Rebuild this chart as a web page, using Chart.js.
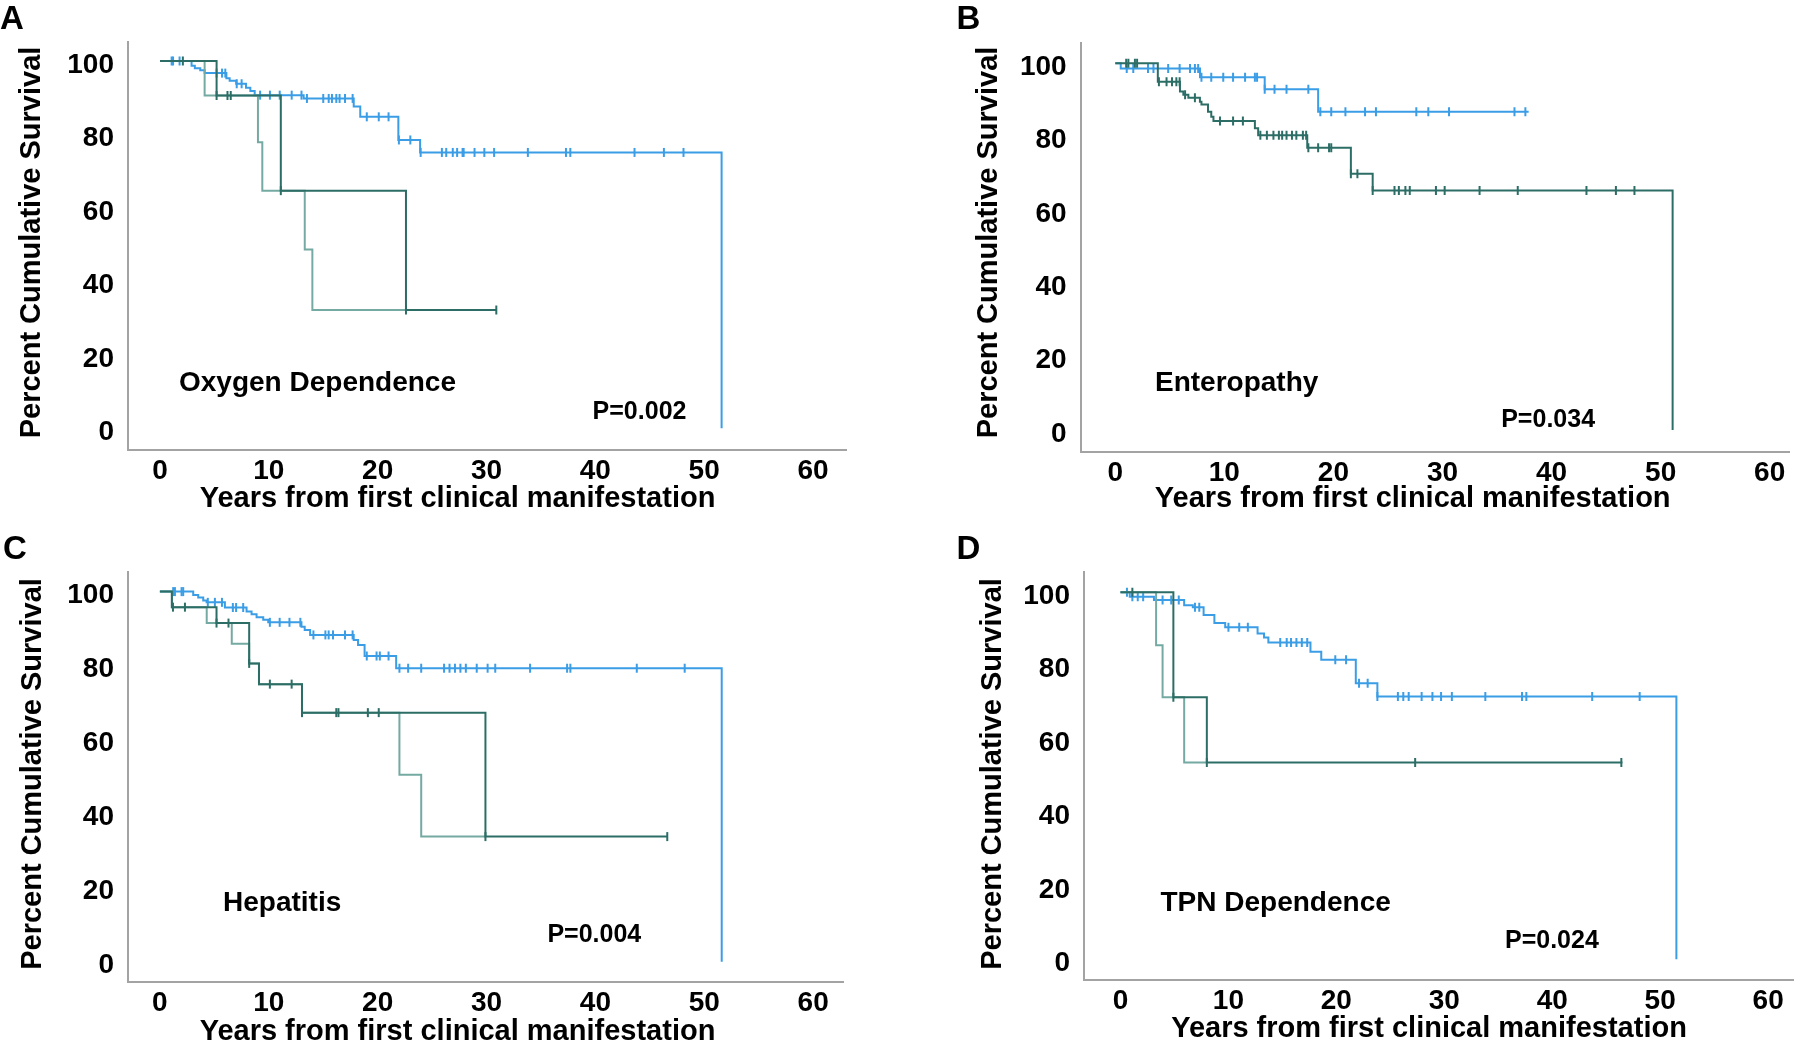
<!DOCTYPE html>
<html><head><meta charset="utf-8">
<script src="https://cdn.jsdelivr.net/npm/chart.js@4.4.1/dist/chart.umd.min.js"></script>
<style>
html,body{margin:0;padding:0;background:#fff;}
body{width:1800px;height:1041px;position:relative;overflow:hidden;}
canvas{position:absolute;display:block;}
</style></head><body>
<canvas id="cA" width="900" height="520" style="left:0;top:0;width:900px;height:520px"></canvas>
<canvas id="cB" width="900" height="520" style="left:900px;top:0;width:900px;height:520px"></canvas>
<canvas id="cC" width="900" height="521" style="left:0;top:520px;width:900px;height:521px"></canvas>
<canvas id="cD" width="900" height="521" style="left:900px;top:520px;width:900px;height:521px"></canvas>
<script>
// ---------- tick labels & texts ----------
const xTicks = [0, 10, 20, 30, 40, 50, 60];
const yTicks = [0, 20, 40, 60, 80, 100];
const xTickLabels = ['0', '10', '20', '30', '40', '50', '60'];
const yTickLabels = ['0', '20', '40', '60', '80', '100'];
const panelLetters = ['A', 'B', 'C', 'D'];
const panelNames = ['Oxygen Dependence', 'Enteropathy', 'Hepatitis', 'TPN Dependence'];
const pValues = ['P=0.002', 'P=0.034', 'P=0.004', 'P=0.024'];
const xTitle = 'Years from first clinical manifestation';
const yTitle = 'Percent Cumulative Survival';

// ---------- Panel A : Oxygen Dependence ----------
const A_blueTime = [0, 2.9, 3.2, 3.7, 4.1, 6.1, 6.4, 7.0, 7.9, 8.3, 8.7, 13.2, 17.8, 18.4, 21.9, 23.9, 51.6];
const A_blueSurv = [100, 98.7, 98.0, 97.5, 96.7, 95.3, 94.6, 93.8, 92.7, 91.8, 90.7, 89.8, 87.6, 84.8, 78.5, 75.1, 0];
const A_blueCens = [1.07, 1.2, 1.8, 5.2, 5.7, 6.0, 7.05, 7.5, 9.2, 10.1, 11.0, 12.1, 13.0, 13.5, 15.0, 15.5, 15.8, 16.2, 16.5, 17.0, 17.7,
  19.0, 20.1, 21.0, 21.95, 23.0, 23.95, 25.9, 26.3, 26.9, 27.3, 27.8, 27.9, 28.9, 29.8, 30.7, 33.8, 37.3, 37.7, 43.6, 46.3, 48.1];
const A_tealTime = [0, 5.2, 11.1, 22.6, 30.9];
const A_tealSurv = [100, 90.6, 64.7, 32.2, 32.2];
const A_tealCens = [2.1, 5.2, 6.2, 6.5, 11.1, 22.6, 30.9];
const A_teal2Time = [0, 4.1, 9.0, 9.4, 13.3, 14.0, 22.6];
const A_teal2Surv = [100, 90.6, 77.9, 64.7, 48.7, 32.2, 32.2];

// ---------- Panel B : Enteropathy ----------
const B_blueTime = [0, 0.5, 7.77, 13.7, 18.6, 37.9];
const B_blueSurv = [100, 98.6, 96.2, 92.9, 86.8, 86.8];
const B_blueCens = [1.05, 1.65, 3.0, 3.5, 4.85, 5.9, 6.85, 7.3, 7.6, 7.9, 8.8, 9.9, 10.8, 11.9, 12.8, 13.0, 13.7, 14.6, 15.7, 17.7,
  18.8, 19.8, 21.1, 22.9, 23.9, 27.6, 28.7, 30.6, 36.6, 37.6];
const B_tealTime = [0, 3.9, 5.93, 6.24, 6.7, 7.76, 7.9, 8.5, 8.8, 9.0, 12.8, 13.1, 17.6, 21.6, 23.6, 51.1];
const B_tealSurv = [100, 95.0, 92.3, 91.4, 90.6, 89.5, 88.8, 86.8, 85.4, 84.3, 82.3, 80.4, 77.0, 69.9, 65.3, 0];
const B_tealCens = [1.0, 1.2, 1.8, 2.0, 4.0, 4.7, 5.2, 5.6, 5.9, 6.4, 7.3, 9.6, 10.8, 11.7, 13.3, 13.9, 14.5, 15.0, 15.3, 15.7, 16.2,
  16.6, 17.2, 17.5, 17.7, 18.6, 19.6, 19.8, 21.6, 22.2, 23.6, 25.6, 26.0, 26.6, 27.0, 29.4, 30.2, 33.4, 36.9, 43.2, 45.9, 47.6];
const B_teal2Time = [];
const B_teal2Surv = [];

// ---------- Panel C : Hepatitis ----------
const C_blueTime = [0, 3.06, 3.52, 3.98, 4.29, 5.97, 7.96, 8.42, 8.88, 9.49, 9.95, 13.0, 13.3, 13.8, 17.8, 18.2, 18.8, 21.7, 51.6];
const C_blueSurv = [100, 99.1, 98.4, 97.6, 97.1, 95.7, 94.6, 93.9, 93.1, 92.4, 91.7, 90.5, 89.6, 88.3, 86.9, 85.6, 82.6, 79.3, 0];
const C_blueCens = [1.22, 1.38, 1.99, 2.14, 4.4, 5.05, 5.7, 6.7, 7.0, 7.65, 10.1, 11.0, 11.9, 12.9, 14.1, 15.2, 15.5, 15.9, 17.0, 17.7,
  19.0, 19.9, 20.2, 21.0, 22.0, 22.8, 24.0, 26.1, 26.6, 27.1, 27.6, 28.1, 29.1, 30.1, 30.8, 34.0, 37.4, 37.7, 43.8, 48.2];
const C_tealTime = [0, 1.1, 5.2, 8.2, 9.1, 13.05, 29.9, 46.6];
const C_tealSurv = [100, 95.8, 91.5, 80.6, 75.0, 67.3, 33.8, 33.8];
const C_tealCens = [1.2, 2.3, 5.2, 6.3, 8.2, 10.1, 12.1, 13.05, 16.2, 16.4, 19.1, 20.1, 29.9, 46.6];
const C_teal2Time = [0, 1.1, 4.3, 6.6, 8.2, 9.1, 13.05, 22.0, 24.0, 29.9];
const C_teal2Surv = [100, 95.8, 91.5, 85.9, 80.6, 75.0, 67.3, 50.5, 33.8, 33.8];

// ---------- Panel D : TPN Dependence ----------
const D_blueTime = [0, 0.86, 3.1, 5.9, 6.7, 7.7, 8.7, 9.7, 12.7, 13.3, 13.7, 17.6, 18.6, 21.8, 23.8, 51.5];
const D_blueSurv = [100, 98.8, 97.9, 96.5, 95.9, 93.8, 91.6, 90.5, 88.8, 87.7, 86.3, 83.8, 81.6, 75.2, 71.6, 0];
const D_blueCens = [0.6, 1.1, 1.6, 2.1, 3.9, 4.7, 5.4, 6.9, 7.3, 10.0, 11.0, 11.8, 14.8, 15.4, 15.8, 16.3, 16.8, 17.3, 19.9, 20.9,
  22.1, 22.9, 23.8, 25.7, 26.2, 26.7, 27.9, 28.9, 29.7, 30.7, 33.8, 37.2, 37.6, 43.7, 48.1];
const D_tealTime = [0, 4.9, 8.0, 46.5];
const D_tealSurv = [100, 71.4, 53.6, 53.6];
const D_tealCens = [1.1, 4.9, 8.0, 27.3, 46.4];
const D_teal2Time = [0, 3.3, 3.9, 5.9, 8.0];
const D_teal2Surv = [100, 85.6, 71.4, 53.6, 53.6];

// ---------- styles ----------
const BLUE = '#3a9de6';
const TEAL = '#2c6e66';
const TEAL_LIGHT = '#74aaa2';
const AXIS = '#a3a3a3';
const FONT = '"Liberation Sans", Arial, sans-serif';

// ---------- layout (pixel placement of each panel) ----------
const layouts = [
  { id: 'cA', area: { l: 128, t: 42, r: 846, b: 450 }, x: [-2.94, 63.03], y: [-5.91, 105.17],
    letter: [0, 17], yT: [30, 242.5], xT: [457.5, 497], name: [179, 381], p: [592.6, 410] },
  { id: 'cB', area: { l: 180.6, t: 43, r: 889, b: 452 }, x: [-3.18, 61.77], y: [-6.0, 105.54],
    letter: [56.5, 17], yT: [87, 242.5], xT: [512.7, 497], name: [255, 381], p: [601.2, 418] },
  { id: 'cC', area: { l: 128, t: 52, r: 843, b: 462 }, x: [-2.93, 62.74], y: [-5.49, 105.3],
    letter: [3, 27], yT: [30.3, 254], xT: [457.5, 510], name: [223, 381], p: [547.4, 413] },
  { id: 'cD', area: { l: 184, t: 52, r: 899, b: 460 }, x: [-3.38, 62.35], y: [-5.64, 105.53],
    letter: [56.5, 27], yT: [90.7, 254], xT: [529, 506.7], name: [260.5, 381], p: [605, 419] }
];

const seriesSets = [
  [A_blueTime, A_blueSurv, A_blueCens, A_tealTime, A_tealSurv, A_tealCens, A_teal2Time, A_teal2Surv],
  [B_blueTime, B_blueSurv, B_blueCens, B_tealTime, B_tealSurv, B_tealCens, B_teal2Time, B_teal2Surv],
  [C_blueTime, C_blueSurv, C_blueCens, C_tealTime, C_tealSurv, C_tealCens, C_teal2Time, C_teal2Surv],
  [D_blueTime, D_blueSurv, D_blueCens, D_tealTime, D_tealSurv, D_tealCens, D_teal2Time, D_teal2Surv]
];

function toPoints(t, s) { return t.map((v, i) => ({ x: v, y: s[i] })); }
function censorPoints(c, t, s) {
  return c.map(v => {
    let y = s[0];
    for (let i = 0; i < t.length; i++) if (t[i] <= v) y = s[i];
    return { x: v, y: y };
  });
}

const textPlugin = {
  id: 'panelText',
  afterDraw(chart, args, opts) {
    const ctx = chart.ctx;
    for (const it of opts.items) {
      ctx.save();
      ctx.fillStyle = '#000';
      ctx.font = 'bold ' + it.size + 'px ' + FONT;
      ctx.textAlign = it.align;
      ctx.textBaseline = 'alphabetic';
      ctx.translate(it.x, it.y);
      if (it.rot) ctx.rotate(it.rot);
      ctx.fillText(it.text, 0, it.size * 0.358);
      ctx.restore();
    }
  }
};

layouts.forEach((L, k) => {
  const [bt, bs, bc, tt, ts, tc, t2t, t2s] = seriesSets[k];
  const canvas = document.getElementById(L.id);
  const W = canvas.width, H = canvas.height;
  const XH = 40;
  const lineDs = (data, color, w) => ({
    type: 'line', data: data, borderColor: color, backgroundColor: color, borderWidth: w,
    stepped: 'before', pointRadius: 0, fill: false, tension: 0
  });
  const censDs = (data, color) => ({
    type: 'line', data: data, showLine: false, borderColor: color, backgroundColor: color,
    pointStyle: 'line', pointRotation: 90, pointRadius: 4.5, pointBorderWidth: 2, pointHoverRadius: 4.5
  });
  const datasets = [];
  datasets.push(censDs(censorPoints(tc, tt, ts), TEAL));
  datasets.push(lineDs(toPoints(tt, ts), TEAL, 2));
  if (t2t.length) datasets.push(lineDs(toPoints(t2t, t2s), TEAL_LIGHT, 2));
  datasets.push(censDs(censorPoints(bc, bt, bs), BLUE));
  datasets.push(lineDs(toPoints(bt, bs), BLUE, 2));

  new Chart(canvas, {
    type: 'line',
    data: { datasets: datasets },
    plugins: [textPlugin],
    options: {
      responsive: false,
      animation: false,
      events: [],
      layout: { padding: { left: 0, top: L.area.t, right: W - L.area.r, bottom: H - L.area.b - XH } },
      plugins: {
        legend: { display: false },
        tooltip: { enabled: false },
        panelText: {
          items: [
            { text: panelLetters[k], x: L.letter[0], y: L.letter[1], size: 33, align: 'left' },
            { text: yTitle, x: L.yT[0], y: L.yT[1], size: 29, align: 'center', rot: -Math.PI / 2 },
            { text: xTitle, x: L.xT[0], y: L.xT[1], size: 29, align: 'center' },
            { text: panelNames[k], x: L.name[0], y: L.name[1], size: 28, align: 'left' },
            { text: pValues[k], x: L.p[0], y: L.p[1], size: 25, align: 'left' }
          ]
        }
      },
      scales: {
        x: {
          type: 'linear', min: L.x[0], max: L.x[1],
          grid: { display: false, drawTicks: false },
          border: { display: true, color: AXIS, width: 2 },
          afterFit: s => { s.height = XH; },
          afterBuildTicks: s => { s.ticks = xTicks.map(v => ({ value: v })); },
          ticks: {
            padding: 4, color: '#000', font: { family: FONT, size: 28, weight: 'bold' },
            maxRotation: 0, autoSkip: false,
            callback: v => { const i = xTicks.indexOf(v); return i >= 0 ? xTickLabels[i] : ''; }
          }
        },
        y: {
          type: 'linear', min: L.y[0], max: L.y[1],
          grid: { display: false, drawTicks: false },
          border: { display: true, color: AXIS, width: 2 },
          afterFit: s => { s.width = L.area.l; },
          afterBuildTicks: s => { s.ticks = yTicks.map(v => ({ value: v })); },
          ticks: {
            padding: 14, labelOffset: 4, color: '#000', font: { family: FONT, size: 28, weight: 'bold' },
            autoSkip: false,
            callback: v => { const i = yTicks.indexOf(v); return i >= 0 ? yTickLabels[i] : ''; }
          }
        }
      }
    }
  });
});
</script>
</body></html>
